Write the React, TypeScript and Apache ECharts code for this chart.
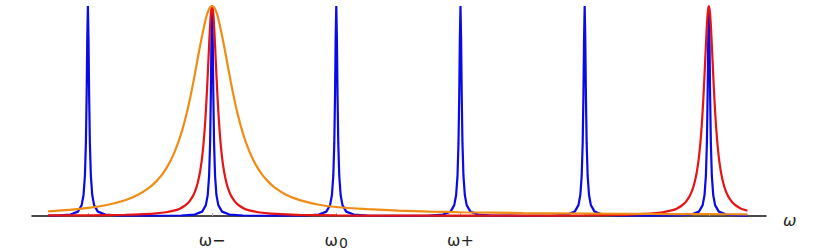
import React, { useEffect, useRef } from "react";
import * as echarts from "echarts";

const tickValues = [-2, -1, 0, 1, 2, 3];
const labelValues = [-1, 0, 1];
const tickLabels = ["{w|ω−}", "{w|ω}{s|0}", "{w|ω+}"];
const axisName = "ω";

const blueCurve: [number, number][] = [
  [-2.32, 0.0015], [-2.25, 0.0025], [-2.14, 0.007], [-2.08, 0.021], [-2.05, 0.052], [-2.035, 0.1], [-2.024, 0.191], [-2.016, 0.347], [-2.01, 0.577], [-2.005, 0.845], [-2, 1],
  [-1.995, 0.845], [-1.99, 0.577], [-1.984, 0.347], [-1.976, 0.191], [-1.965, 0.1], [-1.95, 0.052], [-1.92, 0.021], [-1.86, 0.007], [-1.75, 0.0025], [-1.5, 0.0013],
  [-1.25, 0.0025], [-1.14, 0.007], [-1.08, 0.021], [-1.05, 0.052], [-1.035, 0.1], [-1.024, 0.191], [-1.016, 0.347], [-1.01, 0.577], [-1.005, 0.845], [-1, 1],
  [-0.995, 0.845], [-0.99, 0.577], [-0.984, 0.347], [-0.976, 0.191], [-0.965, 0.1], [-0.95, 0.052], [-0.92, 0.021], [-0.86, 0.007], [-0.75, 0.0025], [-0.5, 0.0013],
  [-0.25, 0.0025], [-0.14, 0.007], [-0.08, 0.021], [-0.05, 0.052], [-0.035, 0.1], [-0.024, 0.191], [-0.016, 0.347], [-0.01, 0.577], [-0.005, 0.845], [0, 1],
  [0.005, 0.845], [0.01, 0.577], [0.016, 0.347], [0.024, 0.191], [0.035, 0.1], [0.05, 0.052], [0.08, 0.021], [0.14, 0.007], [0.25, 0.0025], [0.5, 0.0013],
  [0.75, 0.0025], [0.86, 0.007], [0.92, 0.021], [0.95, 0.052], [0.965, 0.1], [0.976, 0.191], [0.984, 0.347], [0.99, 0.577], [0.995, 0.845], [1, 1],
  [1.005, 0.845], [1.01, 0.577], [1.016, 0.347], [1.024, 0.191], [1.035, 0.1], [1.05, 0.052], [1.08, 0.021], [1.14, 0.007], [1.25, 0.0025], [1.5, 0.0013],
  [1.75, 0.0025], [1.86, 0.007], [1.92, 0.021], [1.95, 0.052], [1.965, 0.1], [1.976, 0.191], [1.984, 0.347], [1.99, 0.577], [1.995, 0.845], [2, 1],
  [2.005, 0.845], [2.01, 0.577], [2.016, 0.347], [2.024, 0.191], [2.035, 0.1], [2.05, 0.052], [2.08, 0.021], [2.14, 0.007], [2.25, 0.0025], [2.5, 0.0013],
  [2.75, 0.0025], [2.86, 0.007], [2.92, 0.021], [2.95, 0.052], [2.965, 0.1], [2.976, 0.191], [2.984, 0.347], [2.99, 0.577], [2.995, 0.845], [3, 1],
  [3.005, 0.845], [3.01, 0.577], [3.016, 0.347], [3.024, 0.191], [3.035, 0.1], [3.05, 0.052], [3.08, 0.021], [3.14, 0.007], [3.25, 0.0025], [3.31, 0.0015],
];

const redCurve: [number, number][] = [
  [-2.32, 0.003], [-2, 0.0035], [-1.7, 0.006], [-1.55, 0.009], [-1.45, 0.0125], [-1.37, 0.018], [-1.3, 0.027], [-1.26, 0.035], [-1.22, 0.049], [-1.19, 0.064],
  [-1.17, 0.08], [-1.15, 0.1], [-1.13, 0.129], [-1.115, 0.16], [-1.1, 0.2], [-1.09, 0.236], [-1.08, 0.281], [-1.07, 0.338], [-1.06, 0.41], [-1.05, 0.5],
  [-1.04, 0.61], [-1.03, 0.735], [-1.02, 0.862], [-1.01, 0.962], [-1, 1], [-0.99, 0.962], [-0.98, 0.862], [-0.97, 0.735], [-0.96, 0.61], [-0.95, 0.5],
  [-0.94, 0.41], [-0.93, 0.338], [-0.92, 0.281], [-0.91, 0.236], [-0.9, 0.2], [-0.885, 0.16], [-0.87, 0.129], [-0.85, 0.1], [-0.83, 0.08], [-0.81, 0.064],
  [-0.78, 0.049], [-0.74, 0.035], [-0.7, 0.027], [-0.63, 0.018], [-0.55, 0.0125], [-0.45, 0.009], [-0.3, 0.0055], [0, 0.003], [0.5, 0.002], [1, 0.0015],
  [1.5, 0.002], [2, 0.003], [2.3, 0.0055], [2.45, 0.009], [2.55, 0.0125], [2.63, 0.018], [2.7, 0.027], [2.74, 0.035], [2.78, 0.049], [2.81, 0.064],
  [2.83, 0.08], [2.85, 0.1], [2.87, 0.129], [2.885, 0.16], [2.9, 0.2], [2.91, 0.236], [2.92, 0.281], [2.93, 0.338], [2.94, 0.41], [2.95, 0.5],
  [2.96, 0.61], [2.97, 0.735], [2.98, 0.862], [2.99, 0.962], [3, 1], [3.01, 0.962], [3.02, 0.862], [3.03, 0.735], [3.04, 0.61], [3.05, 0.5],
  [3.06, 0.41], [3.07, 0.338], [3.08, 0.281], [3.09, 0.236], [3.1, 0.2], [3.115, 0.16], [3.13, 0.129], [3.15, 0.1], [3.17, 0.08], [3.19, 0.064],
  [3.22, 0.049], [3.26, 0.035], [3.31, 0.026],
];

const orangeCurve: [number, number][] = [
  [-2.32, 0.0224], [-2.15, 0.0294], [-2, 0.0385], [-1.85, 0.0525], [-1.7, 0.0755], [-1.6, 0.1], [-1.5, 0.138], [-1.45, 0.165], [-1.4, 0.2], [-1.35, 0.246],
  [-1.3, 0.308], [-1.25, 0.39], [-1.2, 0.5], [-1.15, 0.64], [-1.1, 0.8], [-1.05, 0.941], [-1.025, 0.985], [-1, 1], [-0.975, 0.985], [-0.95, 0.941],
  [-0.9, 0.8], [-0.85, 0.64], [-0.8, 0.5], [-0.75, 0.39], [-0.7, 0.308], [-0.65, 0.246], [-0.6, 0.2], [-0.55, 0.165], [-0.5, 0.138], [-0.4, 0.1],
  [-0.3, 0.077], [-0.15, 0.055], [0, 0.043], [0.25, 0.033], [0.5, 0.026], [0.75, 0.021], [1, 0.018], [1.5, 0.014], [2, 0.012], [2.5, 0.01],
  [3, 0.009], [3.31, 0.008],
];

export default function App() {
  const ref = useRef<HTMLDivElement>(null);
  useEffect(() => {
    if (!ref.current) return;
    const chart = echarts.init(ref.current, undefined, { renderer: "svg" });
    const lineSeries = (data: [number, number][], color: string, smooth: number) => ({
      type: "line",
      data,
      showSymbol: false,
      symbol: "none",
      clip: false,
      smooth,
      lineStyle: { color, width: 2.2 },
      emphasis: { disabled: true },
    });
    chart.setOption({
      animation: false,
      grid: { left: 32, right: 64, top: 6, bottom: 32.5, outerBoundsMode: "none", containLabel: false },
      xAxis: {
        type: "value",
        min: -2.45,
        max: 3.46,
        splitLine: { show: false },
        axisLine: { show: true, lineStyle: { color: "#111", width: 1.5 } },
        axisTick: {
          show: true,
          inside: true,
          length: 3,
          customValues: tickValues,
          lineStyle: { color: "#aaa", width: 1 },
        },
        axisLabel: {
          customValues: labelValues,
          formatter: (v: number) => {
            const i = labelValues.indexOf(v);
            return i >= 0 ? tickLabels[i] : "";
          },
          margin: 14,
          color: "#222",
          rich: {
            w: { fontSize: 16, fontFamily: "DejaVu Sans", color: "#222", lineHeight: 18 },
            s: { fontSize: 14, fontFamily: "DejaVu Sans", color: "#222", lineHeight: 13, verticalAlign: "bottom", padding: [0, 0, 0, 1] },
          },
        },
        name: axisName,
        nameLocation: "end",
        nameGap: 17,
        nameTextStyle: {
          fontSize: 16,
          fontStyle: "italic",
          color: "#222",
          fontFamily: "DejaVu Sans",
          verticalAlign: "top",
          lineHeight: 9,
        },
      },
      yAxis: { type: "value", min: -0.007, max: 1, show: false },
      series: [
        lineSeries(blueCurve, "#0a0ae6", 0),
        lineSeries(redCurve, "#e61414", 0.25),
        lineSeries(orangeCurve, "#f08c14", 0.25),
      ],
    });
    return () => chart.dispose();
  }, []);
  return <div ref={ref} style={{ position: "absolute", left: 0, top: 0, width: 830, height: 250 }} />;
}
